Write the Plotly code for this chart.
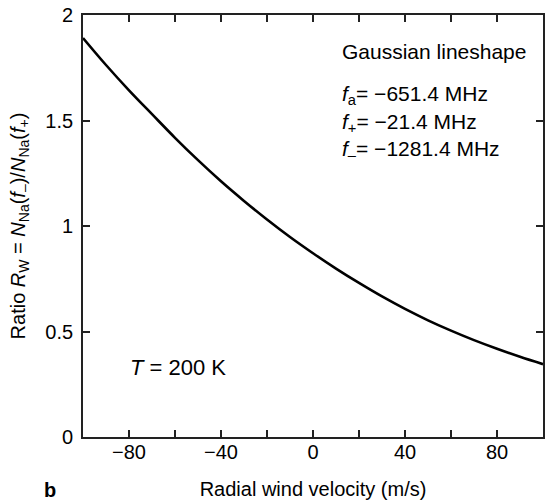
import plotly.graph_objects as go

# Data
velocity = [-100, -90, -80, -70, -60, -50, -40, -30, -20, -10, 0,
            10, 20, 30, 40, 50, 60, 70, 80, 90, 100]
ratio = [1.891, 1.763, 1.643, 1.530, 1.418, 1.312, 1.212, 1.119, 1.031, 0.948, 0.871,
         0.798, 0.730, 0.666, 0.607, 0.553, 0.504, 0.459, 0.418, 0.380, 0.345]

x_tickvals = [-80, -60, -40, -20, 0, 20, 40, 60, 80]
x_ticktext = ["−80", "", "−40", "", "0", "", "40", "", "80"]
y_tickvals = [0, 0.5, 1, 1.5, 2]
y_ticktext = ["0", "0.5", "1", "1.5", "2"]

FONT = "Liberation Sans, Arial, Helvetica, sans-serif"
AXC = "#222222"

fig = go.Figure()
fig.add_trace(go.Scatter(x=velocity, y=ratio, mode="lines",
                         line=dict(color="black", width=2.6, shape="spline", smoothing=1.0),
                         showlegend=False, hoverinfo="skip"))

fig.update_layout(
    width=546, height=501,
    margin=dict(l=83, r=1, t=15, b=64, pad=0),
    paper_bgcolor="white", plot_bgcolor="white",
    font=dict(family=FONT, size=20, color="black"),
    showlegend=False,
)
fig.update_xaxes(
    range=[-100, 100], tickvals=x_tickvals, ticktext=x_ticktext,
    ticks="inside", ticklen=7, tickwidth=1.5, tickcolor=AXC,
    showline=True, linecolor=AXC, linewidth=1.8, mirror="ticks",
    showgrid=False, zeroline=False,
    tickfont=dict(size=20), ticklabelstandoff=-4,
    title=dict(text="Radial wind velocity (m/s)", font=dict(size=20), standoff=20),
)
fig.update_yaxes(
    range=[0, 2], tickvals=y_tickvals, ticktext=y_ticktext,
    ticks="inside", ticklen=7, tickwidth=1.5, tickcolor=AXC,
    showline=True, linecolor=AXC, linewidth=1.8, mirror="ticks",
    showgrid=False, zeroline=False,
    tickfont=dict(size=20), ticklabelstandoff=4,
    title=dict(text="Ratio <i>R</i><sub>W</sub> = <i>N</i><sub>Na</sub>(<i>f</i><sub>–</sub>)/<i>N</i><sub>Na</sub>(<i>f</i><sub>+</sub>)",
               font=dict(size=20), standoff=14),
)

ann = [
    ("Gaussian lineshape", 52),
    ("<i>f</i><sub>a</sub>= −651.4 MHz", 95),
    ("<i>f</i><sub>+</sub>= −21.4 MHz", 123),
    ("<i>f</i><sub>–</sub>= −1281.4 MHz", 150),
]
for txt, ypx in ann:
    fig.add_annotation(text=txt, xref="paper", yref="paper", x=(342 - 83) / 463,
                       y=1.0 - (ypx - 15.6) / 421.1,
                       xanchor="left", yanchor="middle", showarrow=False,
                       font=dict(size=21))
fig.add_annotation(text="<i>T</i> = 200 K", xref="paper", yref="paper",
                   x=(128 - 83) / 463, y=1.0 - (367 - 15.6) / 421.1,
                   xanchor="left", yanchor="middle", showarrow=False, font=dict(size=22))
fig.add_annotation(text="<b>b</b>", xref="paper", yref="paper",
                   x=(50 - 83) / 463, y=1.0 - (490 - 15.6) / 421.1,
                   xanchor="center", yanchor="middle", showarrow=False, font=dict(size=20))

fig.write_html("out.html")
